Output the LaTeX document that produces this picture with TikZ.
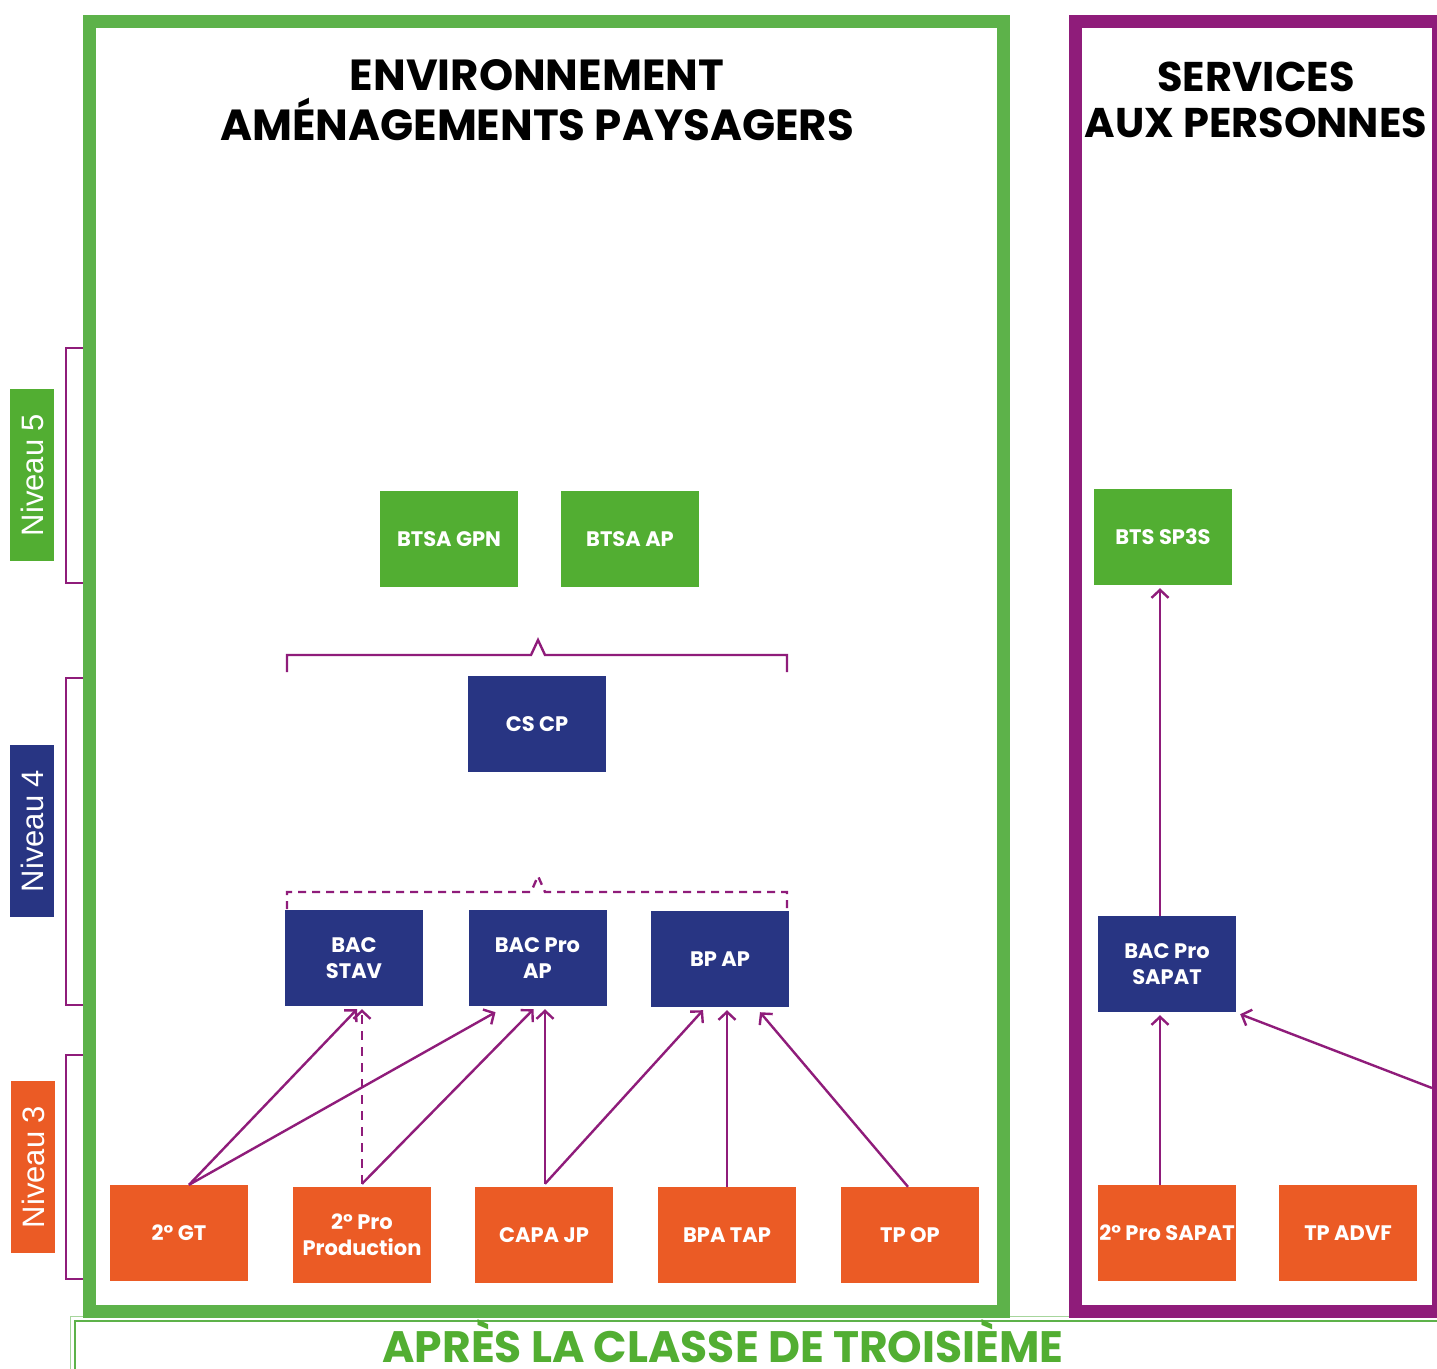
\documentclass[tikz,border=0pt]{standalone}
\usepackage{fontspec}
\setmainfont{Poppins}
\newfontfamily\nivfont{Liberation Sans}
\usetikzlibrary{arrows.meta,calc}
\definecolor{framegreen}{RGB}{93,178,74}
\definecolor{boxgreen}{RGB}{82,174,50}
\definecolor{boxblue}{RGB}{40,53,131}
\definecolor{boxorange}{RGB}{235,91,37}
\definecolor{purp}{RGB}{143,28,122}
\begin{document}
\begin{tikzpicture}[x=1pt,y=-1pt,
  box/.style={minimum width=138pt, minimum height=96pt, inner sep=0pt, text=white,
    font=\bfseries\fontsize{21}{26}\selectfont, align=center},
  gbox/.style={box, fill=boxgreen},
  bbox/.style={box, fill=boxblue},
  obox/.style={box, fill=boxorange},
  arr/.style={draw=purp, line width=2.4pt, -{Straight Barb[length=8pt,width=17pt]}},
  brk/.style={draw=purp, line width=2.4pt},
  niv/.style={minimum width=172pt, minimum height=44pt, inner sep=0pt, text=white,
    font=\nivfont\fontsize{31}{31}\selectfont, rotate=90},
  title/.style={font=\bfseries\fontsize{43.5}{43.5}\selectfont, anchor=base, inner sep=0pt},
  rtitle/.style={font=\bfseries\fontsize{41.5}{41.5}\selectfont, anchor=base, inner sep=0pt}
]
\useasboundingbox (0,0) rectangle (1437,1368);
\fill[white] (0,0) rectangle (1437,1368);

% level brackets
\draw[brk] (84,348) -- (66,348) -- (66,583) -- (84,583);
\draw[brk] (84,678) -- (66,678) -- (66,1005) -- (84,1005);
\draw[brk] (84,1055) -- (66,1055) -- (66,1279) -- (84,1279);

% level labels
\node[niv, fill=boxgreen] (n5) at (32,475) {Niveau 5};
\node[niv, fill=boxblue] (n4) at (32,831) {Niveau 4};
\node[niv, fill=boxorange] (n3) at (33,1167) {Niveau 3};

% bottom box
\draw[framegreen!55, line width=1pt] (70,1400) -- (70,1316) -- (1450,1316);
\draw[framegreen, line width=1.3pt] (75,1400) -- (75,1321) -- (1450,1321);
\node[font=\bfseries\fontsize{44}{44}\selectfont, text=boxgreen, anchor=base, inner sep=0pt] (apres) at (723,1362) {APRÈS LA CLASSE DE TROISIÈME};

% frames
\draw[framegreen, line width=13pt] (89,21.5) rectangle (1003,1311);
\draw[purp, line width=13pt] (1075,21.5) rectangle (1438,1311);

% titles
\node[title] (t1) at (537,90) {ENVIRONNEMENT};
\node[title] (t2) at (537,140) {AMÉNAGEMENTS PAYSAGERS};
\node[rtitle] (t3) at (1256,91) {SERVICES};
\node[rtitle] (t4) at (1256,137) {AUX PERSONNES};

% boxes
\node[gbox] (gpn) at (449,539) {BTSA GPN};
\node[gbox] (btsap) at (630,539) {BTSA AP};
\node[gbox] (sp3s) at (1163,537) {BTS SP3S};
\node[bbox] (cscp) at (537,724) {CS CP};
\node[bbox] (stav) at (354,958) {BAC\\STAV};
\node[bbox] (bacpro) at (537.5,958) {BAC Pro\\AP};
\node[bbox] (bpap) at (720,959) {BP AP};
\node[bbox] (sapat) at (1167,964) {BAC Pro\\SAPAT};
\node[obox] (gt) at (179,1233) {2° GT};
\node[obox] (pro) at (362,1235) {2° Pro\\Production};
\node[obox] (capa) at (544,1235) {CAPA JP};
\node[obox] (bpa) at (727,1235) {BPA TAP};
\node[obox] (tpop) at (910,1235) {TP OP};
\node[obox] (prosapat) at (1167,1233) {2° Pro SAPAT};
\node[obox] (advf) at (1348,1233) {TP ADVF};

% braces
\draw[brk] (287,672) -- (287,655) -- (531,655) -- (538,640) -- (545,655) -- (787,655) -- (787,672);
\draw[brk, dash pattern=on 8pt off 6pt] (287,909) -- (287,892) -- (531,892) -- (538,876) -- (545,892) -- (787,892) -- (787,909);

% arrows
\draw[arr] ([xshift=10pt]gt.north) -- ([xshift=3pt,yshift=-3pt]stav.south);
\draw[arr] ([xshift=10pt]gt.north) -- ([xshift=-42pt,yshift=-6pt]bacpro.south);
\draw[arr, dash pattern=on 9pt off 7pt] ([yshift=3pt]pro.north) -- ([xshift=8pt,yshift=-3pt]stav.south);
\draw[arr] ([yshift=3pt]pro.north) -- ([xshift=-4pt,yshift=-3pt]bacpro.south);
\draw[arr] ([xshift=1pt,yshift=3pt]capa.north) -- ([xshift=7.5pt,yshift=-3pt]bacpro.south);
\draw[arr] ([xshift=1pt,yshift=3pt]capa.north) -- ([xshift=-17pt,yshift=-3pt]bpap.south);
\draw[arr] (bpa.north) -- ([xshift=7pt,yshift=-3pt]bpap.south);
\draw[arr] ([xshift=-2pt]tpop.north) -- ([xshift=40pt,yshift=-5pt]bpap.south);
\draw[arr] ([xshift=-7pt]sapat.north) -- ([xshift=-3pt,yshift=-3pt]sp3s.south);
\draw[arr] ([xshift=-7pt]prosapat.north) -- ([xshift=-7pt,yshift=-3pt]sapat.south);
\coordinate (rightin) at (1432,1088);
\draw[arr] (rightin) -- ([xshift=4pt,yshift=-2pt]sapat.south east);
\end{tikzpicture}
\end{document}
